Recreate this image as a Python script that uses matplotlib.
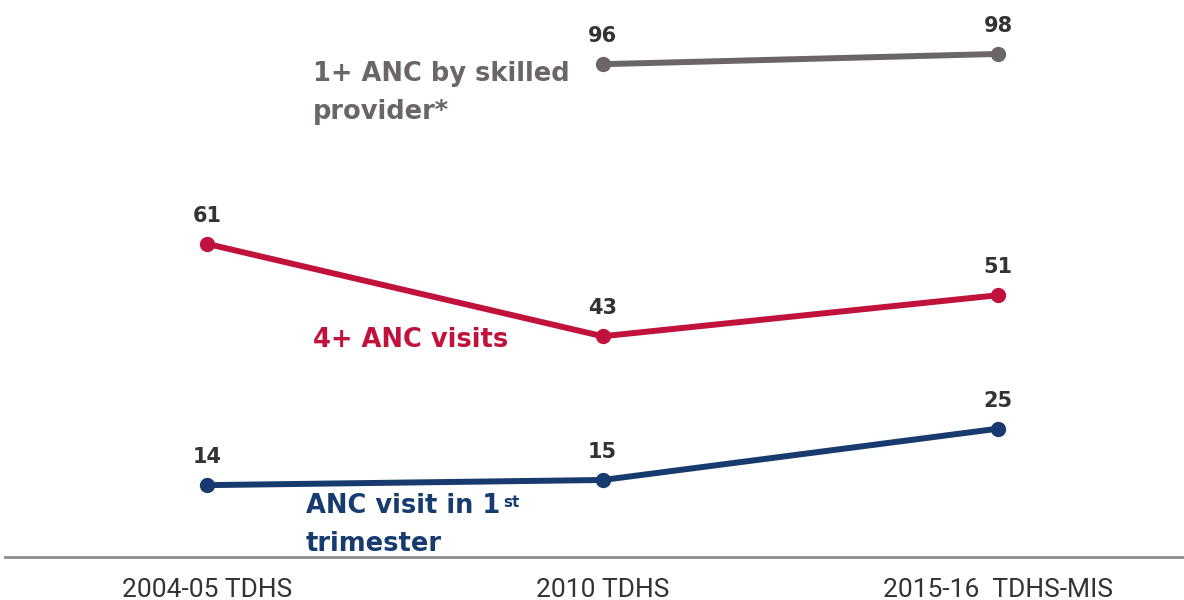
import matplotlib
matplotlib.use("Agg")
import matplotlib.pyplot as plt

surveys = ["2004-05 TDHS", "2010 TDHS", "2015-16  TDHS-MIS"]
skilled_provider = [None, 96, 98]
four_plus_visits = [61, 43, 51]
first_trimester = [14, 15, 25]

GRAY = "#6b6567"
RED = "#c1123d"
NAVY = "#173a6f"
VALUE_COLOR = "#333333"

fig = plt.figure(figsize=(11.84, 6.0), dpi=100)
ax = fig.add_axes([5 / 1184, 43 / 600, 1 - 5 / 1184, 1 - 43 / 600 - 18 / 600])

label_font = ["DejaVu Sans"]
value_font = ["DejaVu Sans"]


def draw_series(values, color):
    xs = [i for i, v in enumerate(values) if v is not None]
    ys = [v for v in values if v is not None]
    ax.plot(xs, ys, color=color, lw=4.3, marker="o", ms=10,
            solid_capstyle="round", zorder=3)
    for x, y in zip(xs, ys):
        ax.annotate(f"{y}", xy=(x, y), xytext=(0, 20), textcoords="offset points",
                    ha="center", va="center", fontsize=15, fontweight="bold",
                    color=VALUE_COLOR, family=value_font)


draw_series(skilled_provider, GRAY)
draw_series(four_plus_visits, RED)
draw_series(first_trimester, NAVY)

ax.set_xlim(-0.511, 2.47)
ax.set_ylim(0, 105)

# series labels
label_kw = dict(ha="left", va="center", fontsize=18.5, fontweight="bold",
                family=label_font)
ax.text(0.268, 90.3, "1+ ANC by skilled\nprovider*", color=GRAY,
        linespacing=1.6, **label_kw)
ax.text(0.268, 42.3, "4+ ANC visits", color=RED, **label_kw)
t1 = ax.text(0.25, 9.9, "ANC visit in 1", color=NAVY, **label_kw)
ax.annotate("st", xy=(1, 1), xycoords=t1, xytext=(2, -1), textcoords="offset points",
            ha="left", va="top", fontsize=11, fontweight="bold", color=NAVY,
            family=label_font)
ax.text(0.25, 2.5, "trimester", color=NAVY, **label_kw)

ax.set_xticks(range(len(surveys)))
ax.set_xticklabels(surveys, fontsize=19, color="#333333",
                   family=["Roboto", "DejaVu Sans"])
ax.tick_params(axis="x", length=0, pad=15)
ax.set_yticks([])
for side in ("top", "right", "left"):
    ax.spines[side].set_visible(False)
ax.spines["bottom"].set_color("#8c8c8c")
ax.spines["bottom"].set_linewidth(2)
ax.set_facecolor("white")

fig.savefig("out.png", dpi=100, facecolor="white")
